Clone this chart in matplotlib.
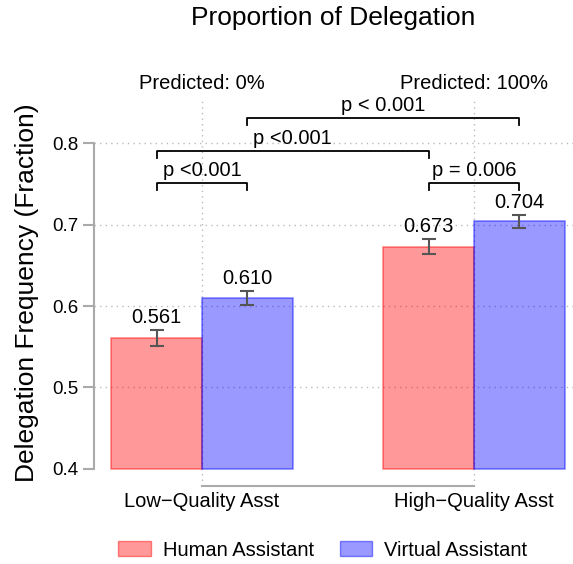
import matplotlib.pyplot as plt
from matplotlib.patches import Patch

plt.rcParams['font.family'] = ['Liberation Sans', 'DejaVu Sans']

groups = ["Low\u2212Quality Asst", "High\u2212Quality Asst"]
predicted = ["Predicted: 0%", "Predicted: 100%"]
human = [0.561, 0.673]
virtual = [0.610, 0.704]
human_err = [0.0095, 0.009]
virtual_err = [0.0088, 0.008]
series = ["Human Assistant", "Virtual Assistant"]

# comparisons: (bar index a, bar index b, bracket height, label)
# bar index: 0 = low/human, 1 = low/virtual, 2 = high/human, 3 = high/virtual
comparisons = [
    (0, 1, 0.751, "p <0.001"),
    (2, 3, 0.751, "p = 0.006"),
    (0, 2, 0.790, "p <0.001"),
    (1, 3, 0.831, "p < 0.001"),
]

fig = plt.figure(figsize=(5.73, 5.64), dpi=100)
ax = fig.add_axes([94 / 573, 1 - 486 / 564, 1 - 94 / 573, (486 - 100) / 564])

w = 1 / 3
x = [0, 1]
hx = [i - w / 2 for i in x]
vx = [i + w / 2 for i in x]

ax.bar(hx, [v - 0.4 for v in human], w, bottom=0.4, color=(1, 0, 0, 0.4),
       edgecolor=(1, 0, 0, 0.45), linewidth=1.2, zorder=2)
ax.bar(vx, [v - 0.4 for v in virtual], w, bottom=0.4, color=(0, 0, 1, 0.4),
       edgecolor=(0, 0, 1, 0.45), linewidth=1.2, zorder=2)
ax.errorbar(hx + vx, human + virtual, yerr=human_err + virtual_err, fmt="none",
            ecolor="#555555", elinewidth=1.5, capsize=5, capthick=1.5, zorder=3)

for xs, vals, errs in [(hx, human, human_err), (vx, virtual, virtual_err)]:
    for xi, v, e in zip(xs, vals, errs):
        ax.annotate(f"{v:.3f}", (xi, v + e), xytext=(0, 2), textcoords="offset points",
                    ha="center", va="bottom", fontsize=14.5)

# significance brackets
centers = [hx[0], vx[0], hx[1], vx[1]]
for a, b, y, label in comparisons:
    xa, xb = centers[a], centers[b]
    ax.plot([xa, xa, xb, xb], [y - 0.0086, y, y, y - 0.0086], color="black",
            linewidth=1.3, zorder=4, clip_on=False)
    ax.text((xa + xb) / 2, y + 0.004, label, ha="center", va="bottom", fontsize=14.5)

for xi, label in zip(x, predicted):
    ax.text(xi, 0.873, label, ha="center", va="center", fontsize=14.5)

# grid
for yv in [0.5, 0.6, 0.7, 0.8]:
    ax.axhline(yv, color="#BBBBBB", linestyle=(0, (1, 3)), linewidth=1, zorder=0)
for xi in x:
    ax.axvline(xi, color="#BBBBBB", linestyle=(0, (1, 3)), linewidth=1, zorder=0)

ax.set_xlim(-0.397, 1.364)
ax.set_ylim(0.379, 0.853)
ax.set_yticks([0.4, 0.5, 0.6, 0.7, 0.8])
ax.set_yticklabels(["0.4", "0.5", "0.6", "0.7", "0.8"], fontsize=13.5)
ax.set_xticks(x)
ax.set_xticklabels(groups, fontsize=14.5)
ax.tick_params(axis="x", length=0, pad=4)
ax.tick_params(axis="y", length=8, width=1.5, color="#AAAAAA", pad=3)

for s in ["top", "right"]:
    ax.spines[s].set_visible(False)
ax.spines["left"].set_bounds(0.4, 0.8)
ax.spines["bottom"].set_bounds(0, 1)
for s in ["left", "bottom"]:
    ax.spines[s].set_color("#AAAAAA")
    ax.spines[s].set_linewidth(1.5)

ax.set_ylabel("Delegation Frequency (Fraction)", fontsize=19, labelpad=10)
ax.set_title("Proportion of Delegation", fontsize=19, pad=54)

handles = [Patch(facecolor=(1, 0, 0, 0.4), edgecolor=(1, 0, 0, 0.45)),
           Patch(facecolor=(0, 0, 1, 0.4), edgecolor=(0, 0, 1, 0.45))]
fig.legend(handles, series, loc="center", bbox_to_anchor=(323 / 573, 1 - 550 / 564),
           ncol=2, frameon=False, fontsize=14.5, handlelength=1.6, handleheight=0.8,
           columnspacing=1.3, handletextpad=0.6)

fig.savefig("out.png", dpi=100)
